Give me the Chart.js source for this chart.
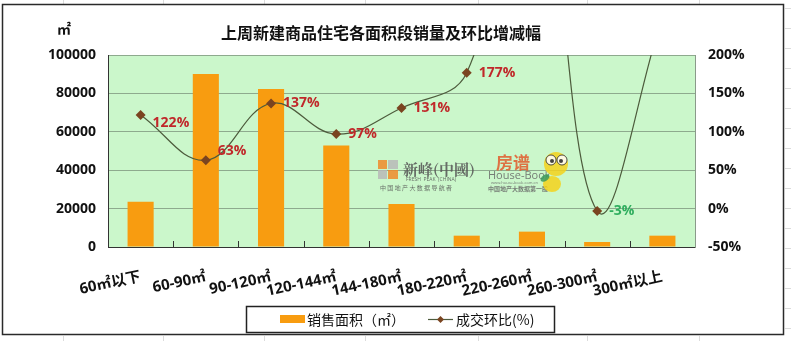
<!DOCTYPE html>
<html>
<head>
<meta charset="utf-8">
<script src="https://cdn.jsdelivr.net/npm/chart.js@4"></script>
<style>
  html, body { margin: 0; padding: 0; background: #fff; }
  canvas { display: block; }
</style>
</head>
<body>
<canvas id="myChart" width="791" height="341"></canvas>
<script>
// area bands and last week's figures
const categories = ['60㎡以下', '60-90㎡', '90-120㎡', '120-144㎡', '144-180㎡', '180-220㎡', '220-260㎡', '260-300㎡', '300㎡以上'];
const areaSold = [23600, 90100, 82300, 52800, 22400, 5900, 8000, 2600, 5900];
// week-on-week change (%), 220-260 and 300+ run off the top of the axis
const momChange = [122, 63, 137, 97, 131, 177, 500, -3, 250];

const leftTicks = [0, 20000, 40000, 60000, 80000, 100000];
const rightTicks = [-50, 0, 50, 100, 150, 200];

const titleText = '上周新建商品住宅各面积段销量及环比增减幅';
const barLegend = '销售面积（㎡）';
const lineLegend = '成交环比(%)';

const FONT = '"Open Sans", "Noto Sans CJK SC", sans-serif';
const CJK = '"Noto Sans CJK SC", sans-serif';
const BAR_COLOR = '#f89c10';
const LINE_COLOR = '#4d5b3c';
const MARKER_COLOR = '#7a4420';

// label nudges for the two labels that sit off the point's row
const labelShift = { 0: 8, 1: -9 };

function diamond(ctx, x, y, r) {
    ctx.beginPath();
    ctx.moveTo(x, y - r);
    ctx.lineTo(x + r, y);
    ctx.lineTo(x, y + r);
    ctx.lineTo(x - r, y);
    ctx.closePath();
    ctx.fill();
}

const decor = {
    id: 'decor',
    beforeDraw(chart) {
        const { ctx, chartArea: a } = chart;
        ctx.save();
        ctx.fillStyle = '#fff';
        ctx.fillRect(0, 0, chart.width, chart.height);
        // spreadsheet cell lines around the chart frame
        ctx.strokeStyle = '#dcdcdc';
        ctx.lineWidth = 1;
        [63, 163, 264, 365, 478, 587, 699].forEach(x => {
            ctx.beginPath();
            ctx.moveTo(x + 0.5, 0); ctx.lineTo(x + 0.5, 4);
            ctx.moveTo(x + 0.5, 336); ctx.lineTo(x + 0.5, 341);
            ctx.stroke();
        });
        for (let y = 8; y < 341; y += 20) {
            ctx.beginPath();
            ctx.moveTo(785, y + 0.5); ctx.lineTo(791, y + 0.5);
            ctx.stroke();
        }
        ctx.fillStyle = '#cbf7cb';
        ctx.fillRect(a.left, a.top, a.right - a.left, a.bottom - a.top);
        ctx.restore();
    },
    beforeDatasetsDraw(chart) {
        // faint brand marks in the middle of the plot
        const { ctx } = chart;
        ctx.save();
        ctx.globalAlpha = 0.85;
        ctx.fillStyle = '#f08a2a';
        ctx.fillRect(378, 160, 9, 9);
        ctx.fillRect(388, 170, 10, 9);
        ctx.fillStyle = '#b9b9b9';
        ctx.fillRect(388, 160, 10, 9);
        ctx.fillRect(378, 170, 9, 9);
        ctx.fillStyle = '#555';
        ctx.font = 'bold 15px "Noto Serif CJK SC", ' + CJK;
        ctx.textBaseline = 'middle';
        ctx.fillText('新峰(中國)', 403, 169);
        ctx.font = '5px ' + FONT;
        ctx.fillText('FRESH  PEAK  (CHINA)', 406, 180);
        ctx.font = '6px ' + CJK;
        ctx.fillText('中 国 地 产 大 数 据 导 航 者', 380, 188);

        ctx.fillStyle = '#e25a2c';
        ctx.font = 'bold 17px ' + CJK;
        ctx.fillText('房谱', 496, 163);
        ctx.fillStyle = '#666';
        ctx.font = '11px ' + FONT;
        ctx.fillText('House-Book', 488, 176);
        ctx.font = '4px ' + FONT;
        ctx.fillText('www.house-book.com.cn', 491, 183);
        ctx.font = 'bold 6px ' + CJK;
        ctx.fillText('中国地产大数据第一股', 488, 189);

        // little bee
        ctx.fillStyle = '#f4d21c';
        ctx.beginPath(); ctx.ellipse(552, 184, 9, 8, 0, 0, Math.PI * 2); ctx.fill();
        ctx.beginPath(); ctx.arc(556, 164, 12, 0, Math.PI * 2); ctx.fill();
        ctx.fillStyle = '#fff';
        ctx.strokeStyle = '#333';
        ctx.lineWidth = 1;
        [[551, 160], [562, 160]].forEach(([x, y]) => {
            ctx.beginPath(); ctx.arc(x, y, 5, 0, Math.PI * 2); ctx.fill(); ctx.stroke();
        });
        ctx.fillStyle = '#222';
        ctx.beginPath(); ctx.arc(552, 161, 2, 0, Math.PI * 2); ctx.fill();
        ctx.beginPath(); ctx.arc(561, 161, 2, 0, Math.PI * 2); ctx.fill();
        ctx.fillStyle = '#3c9a5a';
        ctx.beginPath(); ctx.ellipse(545, 178, 5, 3, -0.6, 0, Math.PI * 2); ctx.fill();
        ctx.restore();
    },
    afterDatasetsDraw(chart) {
        const { ctx, chartArea: a } = chart;
        const xs = chart.scales.x;
        ctx.save();
        // inside tick marks at the band boundaries
        ctx.strokeStyle = '#333';
        ctx.lineWidth = 1;
        for (let i = 0; i < categories.length - 1; i++) {
            const x = Math.round((xs.getPixelForValue(i) + xs.getPixelForValue(i + 1)) / 2) + 0.5;
            ctx.beginPath();
            ctx.moveTo(x, a.bottom);
            ctx.lineTo(x, a.bottom - 6);
            ctx.stroke();
        }
        // value labels next to the change points
        const meta = chart.getDatasetMeta(1);
        const max = chart.scales.y1.max;
        ctx.font = 'bold 14px ' + FONT;
        ctx.textBaseline = 'middle';
        ctx.textAlign = 'left';
        meta.data.forEach((pt, i) => {
            const v = momChange[i];
            if (v > max) return;
            ctx.fillStyle = v < 0 ? '#2fae5e' : '#c0282a';
            ctx.fillText(v + '%', pt.x + 12, pt.y + (labelShift[i] || 0));
        });
        ctx.restore();
    },
    afterDraw(chart) {
        const { ctx } = chart;
        ctx.save();
        ctx.fillStyle = '#111';
        ctx.textBaseline = 'middle';
        ctx.textAlign = 'center';
        ctx.font = 'bold 16px ' + CJK;
        ctx.fillText(titleText, 381, 33);
        ctx.font = 'bold 14px ' + CJK;
        ctx.fillText('㎡', 64, 29);

        // legend box
        ctx.strokeStyle = '#222';
        ctx.lineWidth = 1.5;
        ctx.strokeRect(246.5, 306.5, 308, 26);
        ctx.fillStyle = BAR_COLOR;
        ctx.fillRect(280, 315, 25, 8);
        ctx.fillStyle = '#111';
        ctx.textAlign = 'left';
        ctx.font = '14px ' + CJK;
        ctx.fillText(barLegend, 307, 320);
        ctx.strokeStyle = LINE_COLOR;
        ctx.lineWidth = 1.2;
        ctx.beginPath();
        ctx.moveTo(428, 319.5); ctx.lineTo(453, 319.5);
        ctx.stroke();
        ctx.fillStyle = MARKER_COLOR;
        diamond(ctx, 440.5, 319.5, 3.5);
        ctx.fillStyle = '#111';
        ctx.fillText(lineLegend, 456, 320);

        // chart frame
        ctx.strokeStyle = '#2a2a2a';
        ctx.lineWidth = 1.5;
        ctx.strokeRect(2.5, 4.5, 781, 330);
        ctx.restore();
    }
};

const ctx = document.getElementById('myChart');

new Chart(ctx, {
    data: {
        labels: categories,
        datasets: [
            {
                type: 'bar',
                label: barLegend,
                data: areaSold,
                yAxisID: 'y',
                backgroundColor: BAR_COLOR,
                barPercentage: 0.8,
                categoryPercentage: 0.5,
                order: 1
            },
            {
                type: 'line',
                label: lineLegend,
                data: momChange,
                yAxisID: 'y1',
                borderColor: LINE_COLOR,
                borderWidth: 1.2,
                tension: 0.4,
                pointStyle: 'rectRot',
                pointRadius: 5,
                pointBackgroundColor: MARKER_COLOR,
                pointBorderColor: MARKER_COLOR,
                pointBorderWidth: 0,
                order: 0
            }
        ]
    },
    options: {
        responsive: false,
        animation: false,
        layout: { padding: { top: 55, left: 0, right: 0, bottom: 0 } },
        elements: { line: { capBezierPoints: false } },
        plugins: {
            legend: { display: false },
            title: { display: false },
            tooltip: { enabled: false }
        },
        scales: {
            x: {
                grid: { display: false, drawTicks: false },
                border: { display: true, color: '#333', width: 1 },
                ticks: {
                    autoSkip: false,
                    minRotation: 12,
                    maxRotation: 12,
                    padding: 21,
                    color: '#111',
                    font: { family: FONT, size: 15, weight: 'bold' }
                },
                afterFit(scale) { scale.height = 94; }
            },
            y: {
                position: 'left',
                min: 0,
                max: 100000,
                afterBuildTicks(scale) { scale.ticks = leftTicks.map(v => ({ value: v })); },
                grid: { color: '#8eaa8e', drawTicks: false },
                border: { display: true, color: '#333', width: 1 },
                ticks: {
                    padding: 12,
                    color: '#111',
                    font: { family: FONT, size: 14, weight: 'bold' },
                    callback: v => String(v)
                },
                afterFit(scale) { scale.width = 108; }
            },
            y1: {
                position: 'right',
                min: -50,
                max: 200,
                afterBuildTicks(scale) { scale.ticks = rightTicks.map(v => ({ value: v })); },
                grid: { drawOnChartArea: false, drawTicks: false },
                border: { display: true, color: '#8a9a8a', width: 1 },
                ticks: {
                    padding: 13,
                    color: '#111',
                    font: { family: FONT, size: 14, weight: 'bold' },
                    callback: v => v + '%'
                },
                afterFit(scale) { scale.width = 96; }
            }
        }
    },
    plugins: [decor]
});
</script>
</body>
</html>
